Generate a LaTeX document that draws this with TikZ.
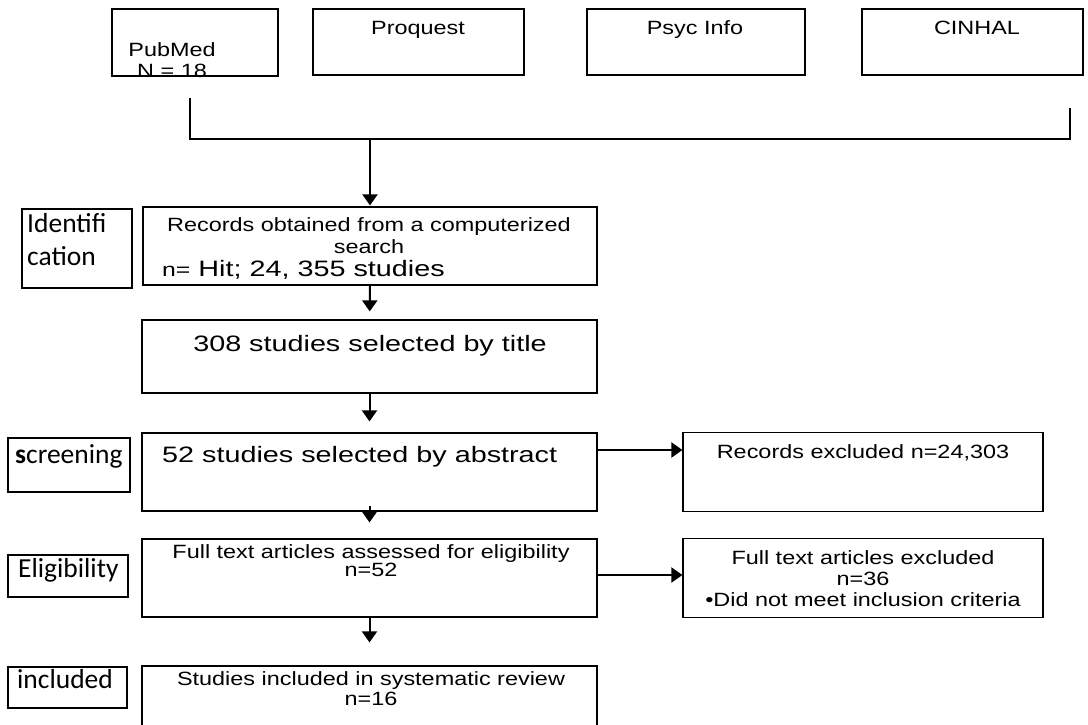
\documentclass[tikz,border=0pt]{standalone}
\usepackage{fontspec}
\setmainfont{Liberation Sans}[FakeStretch=1.22]
\newfontfamily\bigfont{Liberation Sans}[FakeStretch=1.29]
\newfontfamily\stagefont{Carlito}
\usetikzlibrary{arrows.meta}

\begin{document}
\begin{tikzpicture}[x=1pt, y=-1pt,
    box/.style={draw, line width=1.2pt, inner sep=0pt},
    txt/.style={inner sep=0pt, align=center, font=\fontsize{19.2}{22}\selectfont},
    bigtxt/.style={inner sep=0pt, font=\bigfont\fontsize{22.3}{26}\selectfont},
    stage/.style={inner sep=0pt, align=left, font=\stagefont\fontsize{27.5}{33}\selectfont},
    arr/.style={line width=2pt, -{Triangle[width=15pt,length=11pt]}}]

    \clip (0,0) rectangle (1088,724);

    % Databases
    \node[box, minimum width=166pt, minimum height=67pt] (pubmed) at (195,42.5) {};
    \node[box, minimum width=211pt, minimum height=66pt] (proquest) at (418.5,42) {};
    \node[box, minimum width=218pt, minimum height=66pt] (psyc) at (696,42) {};
    \node[box, minimum width=221pt, minimum height=66pt] (cinhal) at (972.5,42) {};
    \node[txt, anchor=base, font=\fontsize{19.2}{21}\selectfont] (pubmedtxt) at (172,77) {PubMed\\N = 18};
    \node[txt, anchor=base] (proquesttxt) at (418,34) {Proquest};
    \node[txt, anchor=base] (psyctxt) at (695,34) {Psyc Info};
    \node[txt, anchor=base] (cinhaltxt) at (977,34) {CINHAL};

    % Merge bracket
    \coordinate (jl) at (190,98);
    \coordinate (jm) at (370,139);
    \coordinate (jr) at (1070,108);
    \draw[line width=1.2pt] (jl) |- (jm) -| (jr);

    % Main column
    \node[box, minimum width=454pt, minimum height=78pt] (records) at (370,246) {};
    \node[txt, anchor=base] (rectxt) at (369,253) {Records obtained from a computerized\\search};
    \node[bigtxt, anchor=base west] (rechit) at (162,276) {{\fontsize{19.2}{20}\selectfont n=} Hit; 24, 355 studies};

    \node[box, minimum width=455pt, minimum height=73pt] (title) at (369.5,356.5) {};
    \node[bigtxt, anchor=base] (titletxt) at (370,351) {308 studies selected by title};

    \node[box, minimum width=455pt, minimum height=78pt] (abstract) at (369.5,472) {};
    \node[bigtxt, anchor=base west] (abstracttxt) at (162,462) {52 studies selected by abstract};

    \node[box, minimum width=455pt, minimum height=78pt] (fulltext) at (369.5,578) {};
    \node[txt, anchor=base, font=\fontsize{19.2}{18}\selectfont] (fulltexttxt) at (371,576) {Full text articles assessed for eligibility\\n=52};

    \node[box, minimum width=455pt, minimum height=100pt] (included) at (369.5,716) {};
    \node[txt, anchor=base, font=\fontsize{19.2}{20}\selectfont] (includedtxt) at (371,705) {Studies included in systematic review\\n=16};

    % Exclusions
    \node[box, minimum width=360pt, minimum height=79pt] (recexcl) at (863,472) {};
    \node[txt, anchor=base] (recexcltxt) at (863,458) {Records excluded n=24,303};

    \node[box, minimum width=360pt, minimum height=79pt] (fullexcl) at (863,578) {};
    \node[txt, anchor=base, font=\fontsize{19.2}{21}\selectfont] (fullexcltxt) at (863,606) {Full text articles excluded\\n=36\\\textbullet Did not meet inclusion criteria};

    % Stages
    \node[box, minimum width=110pt, minimum height=79pt] (ident) at (77,248.5) {};
    \node[stage, anchor=base west] (identtxt) at (27,265) {Identifi\\cation};
    \node[box, minimum width=122pt, minimum height=54pt] (screen) at (69,465) {};
    \node[stage, anchor=base west] (screentxt) at (15,463) {\textbf{s}creening};
    \node[box, minimum width=120pt, minimum height=42pt] (elig) at (68,576) {};
    \node[stage, anchor=base west] (eligtxt) at (18,577) {Eligibility};
    \node[box, minimum width=119pt, minimum height=41pt] (incl) at (67.5,687.5) {};
    \node[stage, anchor=base west] (incltxt) at (17,688) {included};

    % Arrows
    \draw[arr, shorten >=1pt] (jm) -- (records);
    \draw[arr, shorten >=8pt] (records) -- (title);
    \draw[arr, shorten >=11pt] (title) -- (abstract);
    \draw[arr, shorten <=-6pt, shorten >=16pt] (abstract) -- (fulltext);
    \draw[arr, shorten >=23pt] (fulltext) -- (included);
    \draw[arr] ([yshift=22pt]abstract.east) -- ([yshift=22pt]recexcl.west);
    \draw[arr] ([yshift=3pt]fulltext.east) -- ([yshift=3pt]fullexcl.west);
\end{tikzpicture}
\end{document}
